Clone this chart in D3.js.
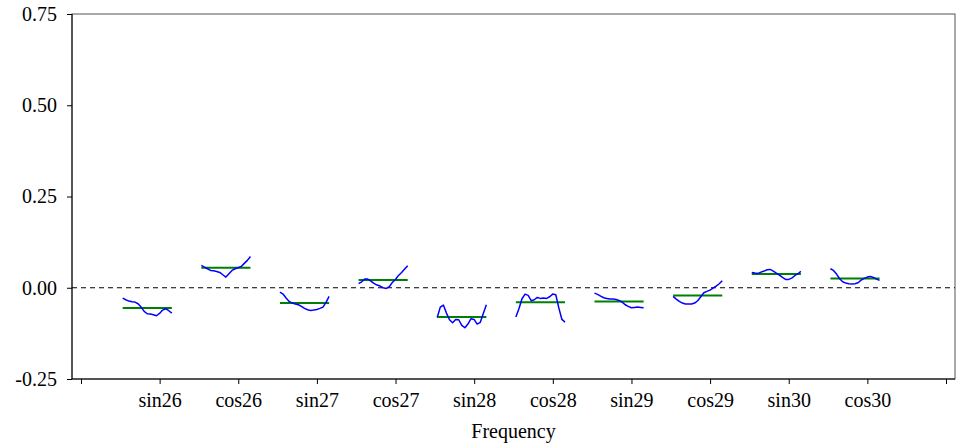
<!DOCTYPE html>
<html>
<head>
<meta charset="utf-8">
<script src="https://cdn.jsdelivr.net/npm/d3@7"></script>
<style>
	body { margin: 0; background: #fff; }
	text { font-family: "Liberation Serif", "Times New Roman", serif; }
</style>
</head>
<body>
<svg id="chart" width="970" height="445"></svg>
<script>
// categories and values
var categories = ["sin26", "cos26", "sin27", "cos27", "sin28", "cos28", "sin29", "cos29", "sin30", "cos30"];
var means = [-0.0557, 0.0548, -0.042, 0.021, -0.080, -0.040, -0.0375, -0.021, 0.038, 0.0256];

var sin26 = [-0.0283, -0.0329, -0.0365, -0.0384, -0.0393, -0.0438, -0.0530, -0.0648, -0.0712, -0.0721, -0.0740, -0.0767, -0.0703, -0.0612, -0.0575, -0.0630, -0.0694];
var cos26 = [0.0612, 0.0566, 0.0521, 0.0475, 0.0466, 0.0447, 0.0420, 0.0356, 0.0292, 0.0384, 0.0475, 0.0521, 0.0548, 0.0584, 0.0667, 0.0749, 0.0858];
var sin27 = [-0.0119, -0.0173, -0.0283, -0.0374, -0.0420, -0.0447, -0.0466, -0.0511, -0.0566, -0.0603, -0.0621, -0.0612, -0.0594, -0.0566, -0.0530, -0.0402, -0.0237];
var cos27 = [0.0110, 0.0164, 0.0237, 0.0237, 0.0183, 0.0119, 0.0073, 0.0046, 0.0000, -0.0018, 0.0027, 0.0146, 0.0228, 0.0338, 0.0420, 0.0511, 0.0603];
var sin28 = [-0.0813, -0.0530, -0.0475, -0.0694, -0.0877, -0.0959, -0.0868, -0.0877, -0.1032, -0.1096, -0.0995, -0.0849, -0.0868, -0.0995, -0.0950, -0.0703, -0.0466];
var cos28 = [-0.0804, -0.0575, -0.0301, -0.0173, -0.0210, -0.0356, -0.0329, -0.0265, -0.0292, -0.0283, -0.0292, -0.0247, -0.0173, -0.0192, -0.0557, -0.0868, -0.0941];
var sin29 = [-0.0146, -0.0183, -0.0228, -0.0274, -0.0292, -0.0311, -0.0311, -0.0320, -0.0347, -0.0393, -0.0466, -0.0511, -0.0548, -0.0539, -0.0530, -0.0539, -0.0548];
var cos29 = [-0.0237, -0.0311, -0.0374, -0.0420, -0.0447, -0.0447, -0.0447, -0.0420, -0.0356, -0.0247, -0.0137, -0.0100, -0.0064, -0.0009, 0.0046, 0.0110, 0.0192];
var sin30 = [0.0420, 0.0402, 0.0393, 0.0429, 0.0457, 0.0493, 0.0502, 0.0457, 0.0402, 0.0347, 0.0283, 0.0228, 0.0228, 0.0265, 0.0329, 0.0384, 0.0447];
var cos30 = [0.0521, 0.0475, 0.0374, 0.0247, 0.0164, 0.0128, 0.0110, 0.0100, 0.0110, 0.0137, 0.0210, 0.0256, 0.0292, 0.0311, 0.0283, 0.0237, 0.0201];

var series = [sin26, cos26, sin27, cos27, sin28, cos28, sin29, cos29, sin30, cos30];

var yTicks = [-0.25, 0, 0.25, 0.5, 0.75];
var yTickLabels = ["-0.25", "0.00", "0.25", "0.50", "0.75"];
var xTitle = "Frequency";

var plotLeft = 72, plotRight = 955, plotTop = 14, plotBottom = 379;
var fontSize = "20px";

var svg = d3.select("#chart");

var x = d3.scaleLinear().domain([0, 11]).range([81, 946]);
var y = d3.scaleLinear().domain([-0.25, 0.75]).range([plotBottom, plotTop]);

// frame
svg.append("rect")
	.attr("x", plotLeft)
	.attr("y", plotTop)
	.attr("width", plotRight - plotLeft)
	.attr("height", plotBottom - plotTop)
	.attr("fill", "none")
	.attr("stroke", "#555")
	.attr("stroke-width", 1)

// zero reference line
svg.append("line")
	.attr("x1", plotLeft)
	.attr("x2", plotRight)
	.attr("y1", y(0))
	.attr("y2", y(0))
	.attr("stroke", "#000")
	.attr("stroke-width", 1)
	.attr("stroke-dasharray", "5,4")

// y axis
var yAxis = svg.append("g")
	.attr("transform", "translate(" + plotLeft + ",0)")
	.call(d3.axisLeft(y).tickValues(yTicks).tickSize(5).tickPadding(10)
		.tickFormat(function(d, i){ return yTickLabels[i]; }));
yAxis.select(".domain").remove();
yAxis.selectAll("line").attr("stroke", "#000");
yAxis.selectAll("text")
	.attr("font-size", fontSize)
	.attr("font-family", "Liberation Serif, serif")
	.attr("fill", "#000");

// x axis
var xAxis = svg.append("g")
	.attr("transform", "translate(0," + plotBottom + ")")
	.call(d3.axisBottom(x).tickValues(d3.range(0, 12)).tickSize(5).tickPadding(9)
		.tickFormat(function(d){ return categories[d - 1] || ""; }));
xAxis.select(".domain").remove();
xAxis.selectAll("line").attr("stroke", "#000");
xAxis.selectAll("text")
	.attr("font-size", fontSize)
	.attr("font-family", "Liberation Serif, serif")
	.attr("fill", "#000");

// left and bottom axis lines in black
svg.append("line").attr("x1", plotLeft).attr("x2", plotLeft).attr("y1", plotTop).attr("y2", plotBottom).attr("stroke", "#000")
svg.append("line").attr("x1", plotLeft).attr("x2", plotRight).attr("y1", plotBottom).attr("y2", plotBottom).attr("stroke", "#000")

svg.append("text")
	.attr("x", (plotLeft + plotRight) / 2)
	.attr("y", 438)
	.attr("text-anchor", "middle")
	.attr("font-size", fontSize)
	.text(xTitle)

// subseries: each one drawn left of its tick
var line = d3.line();
for (var i = 0; i < series.length; i++){
	var vals = series[i];
	var sx = d3.scaleLinear().domain([0, vals.length - 1]).range([x(i + 1 - 0.47), x(i + 1 + 0.155)]);

	svg.append("line")
		.attr("x1", sx(0))
		.attr("x2", sx(vals.length - 1))
		.attr("y1", y(means[i]))
		.attr("y2", y(means[i]))
		.attr("stroke", "#008000")
		.attr("stroke-width", 2)

	svg.append("path")
		.attr("d", line(vals.map(function(v, j){ return [sx(j), y(v)]; })))
		.attr("fill", "none")
		.attr("stroke", "#0000ff")
		.attr("stroke-width", 1.5)
		.attr("stroke-linejoin", "round")
}
</script>
</body>
</html>
